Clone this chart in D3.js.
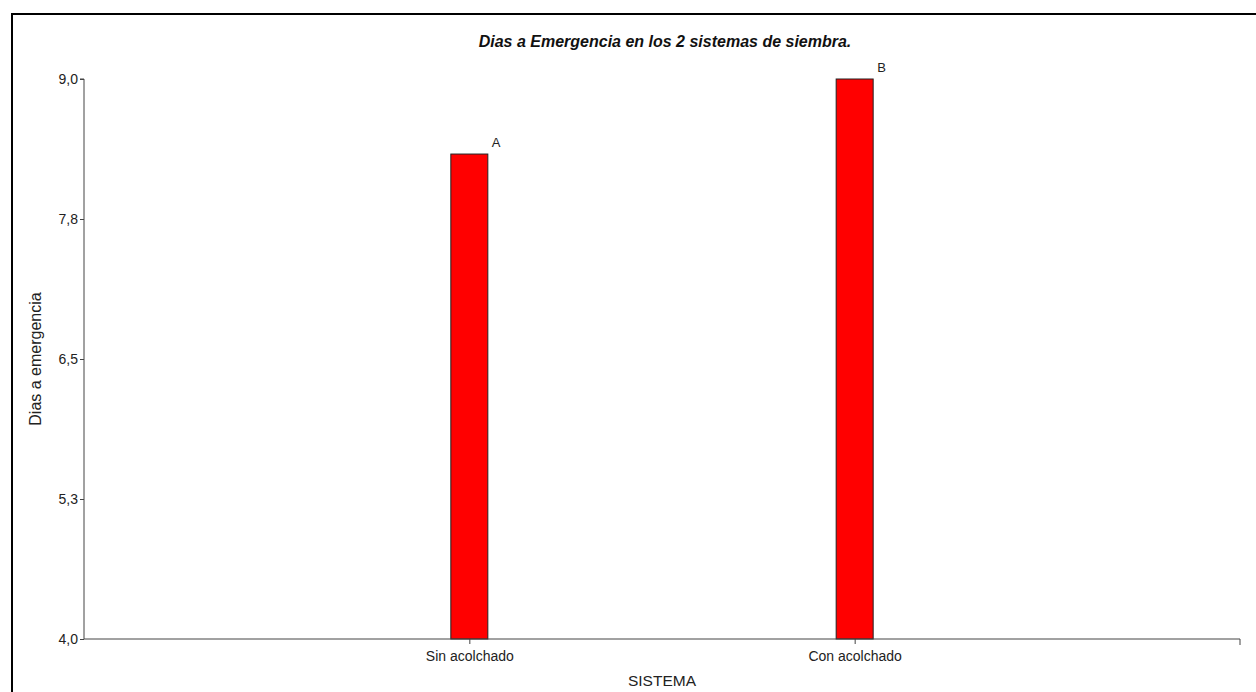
<!DOCTYPE html>
<html><head><meta charset="utf-8">
<script src="https://cdn.jsdelivr.net/npm/d3@7"></script>
<style>body{margin:0;background:#fff;}svg{display:block;font-family:"Liberation Sans",Arial,sans-serif;}</style>
</head><body>
<script>
const categories = ["Sin acolchado", "Con acolchado"];
const values = [8.33, 9.0];
const letters = ["A", "B"];
const yTicks = [4.0, 5.25, 6.5, 7.75, 9.0];
const yTickLabels = ["4,0", "5,3", "6,5", "7,8", "9,0"];
const title = "Dias a Emergencia en los 2 sistemas de siembra.";
const xTitle = "SISTEMA";
const yTitle = "Dias a emergencia";

const W = 1256, H = 692;
const svg = d3.select("body").append("svg").attr("width", W).attr("height", H);

// outer frame
svg.append("rect").attr("x", 12).attr("y", 14).attr("width", W).attr("height", H)
  .attr("fill", "none").attr("stroke", "#000").attr("stroke-width", 2);

const x0 = 84, x1 = 1240, yTop = 79, yBot = 639;
const x = d3.scalePoint().domain(categories).range([x0, x1]).padding(1);
const y = d3.scaleLinear().domain([4, 9]).range([yBot, yTop]);

// bars
const bw = 37;
svg.selectAll("rect.bar").data(categories).enter().append("rect")
  .attr("class", "bar")
  .attr("x", d => x(d) - bw / 2)
  .attr("y", (d, i) => y(values[i]))
  .attr("width", bw)
  .attr("height", (d, i) => y(4) - y(values[i]))
  .attr("fill", "#ff0000").attr("stroke", "#222").attr("stroke-width", 1);

// letters
svg.selectAll("text.let").data(categories).enter().append("text")
  .attr("x", d => x(d) + bw / 2 + 4)
  .attr("y", (d, i) => y(values[i]) - 7)
  .attr("font-size", 13).attr("fill", "#222")
  .text((d, i) => letters[i]);

// y axis
const yAxis = d3.axisLeft(y).tickValues(yTicks).tickSize(4).tickPadding(2)
  .tickFormat((d, i) => yTickLabels[i]);
const gy = svg.append("g").attr("transform", `translate(${x0},0)`).call(yAxis);
gy.select(".domain").attr("stroke", "#444").attr("d", `M-4,${yTop}H0V${yBot}`);
gy.selectAll(".tick line").attr("stroke", "#444");
gy.selectAll(".tick text").attr("font-size", 14).attr("fill", "#222")
  .attr("font-family", "Liberation Sans, Arial, sans-serif");

// x axis
const xAxis = d3.axisBottom(x).tickSize(5).tickPadding(7);
const gx = svg.append("g").attr("transform", `translate(0,${yBot})`).call(xAxis);
gx.select(".domain").attr("stroke", "#444").attr("d", `M${x0},0H${x1}V6`);
gx.selectAll(".tick line").attr("stroke", "#444");
gx.selectAll(".tick text").attr("font-size", 14).attr("fill", "#222")
  .attr("font-family", "Liberation Sans, Arial, sans-serif");

// titles
svg.append("text").attr("x", 665).attr("y", 47).attr("text-anchor", "middle")
  .attr("font-size", 16).attr("font-weight", "bold").attr("font-style", "italic")
  .attr("fill", "#111").text(title);
svg.append("text").attr("x", 662).attr("y", 686).attr("text-anchor", "middle")
  .attr("font-size", 15.5).attr("fill", "#222").text(xTitle);
svg.append("text").attr("transform", `translate(41,${(yTop + yBot) / 2}) rotate(-90)`)
  .attr("text-anchor", "middle").attr("font-size", 16).attr("fill", "#222").text(yTitle);
</script>
</body></html>
